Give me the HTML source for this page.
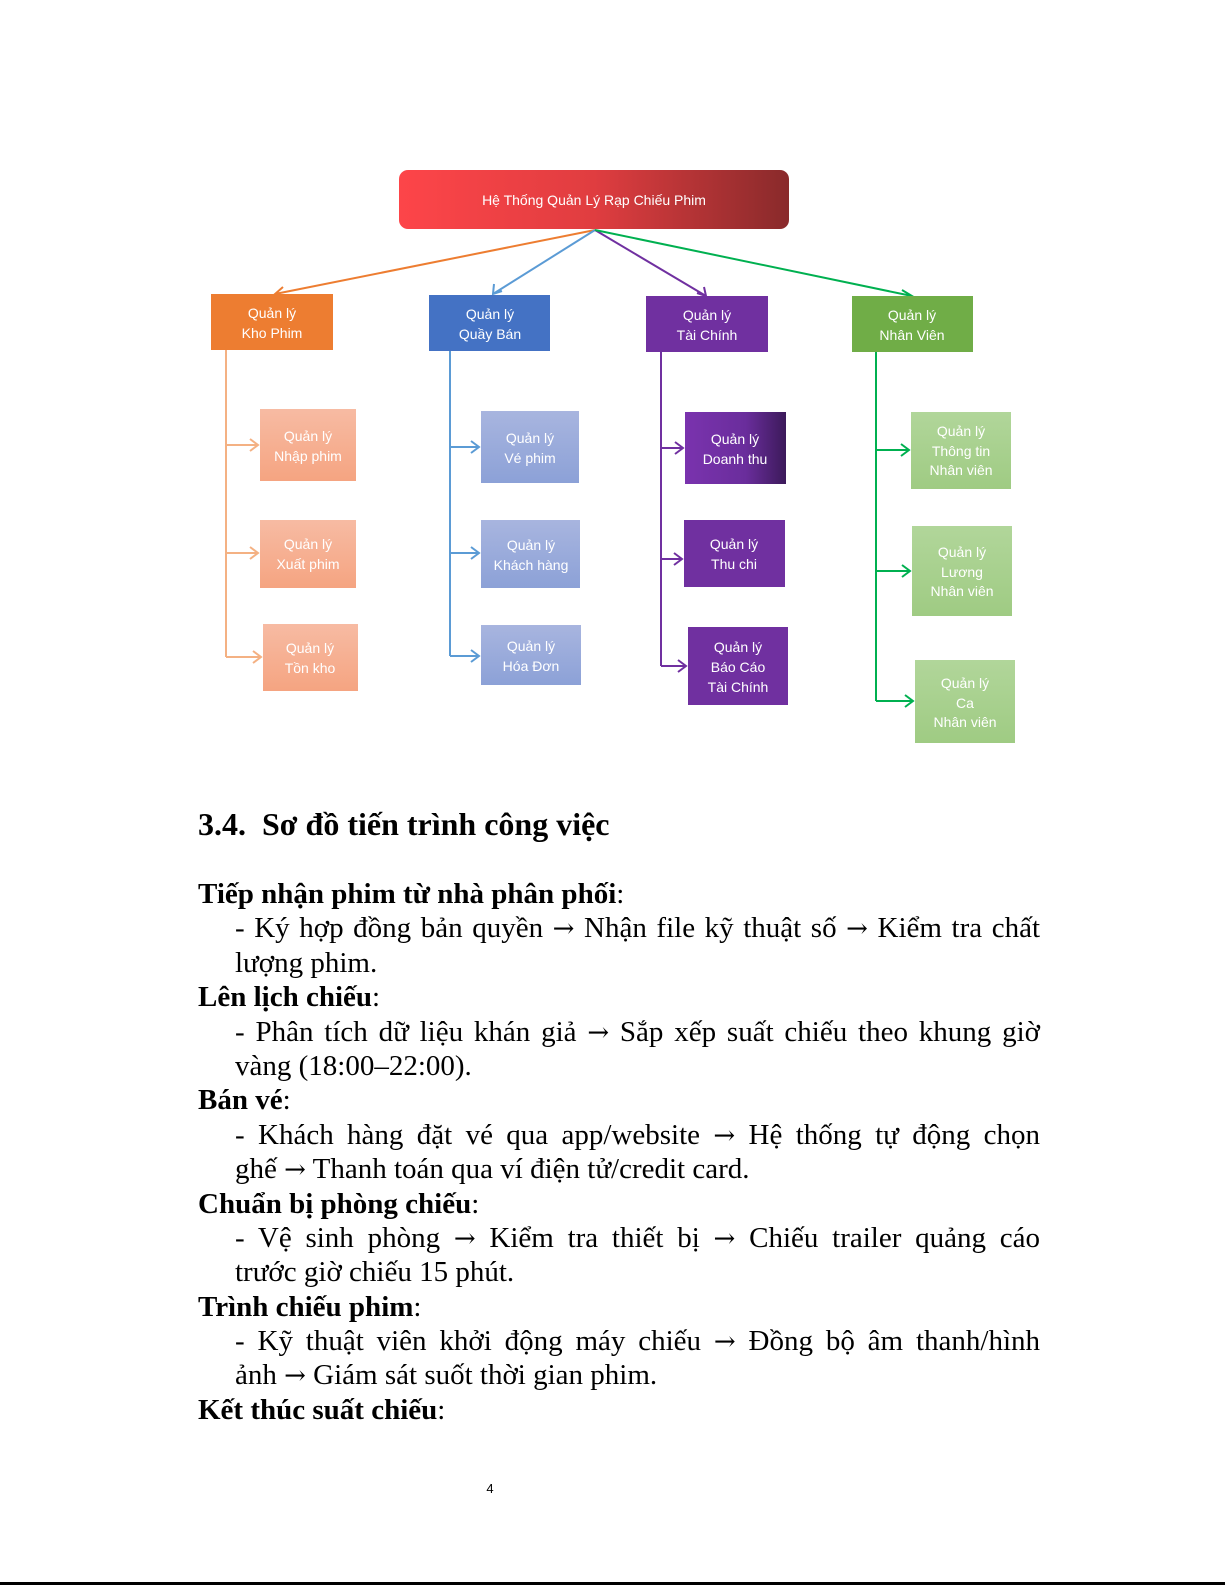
<!DOCTYPE html>
<html><head><meta charset="utf-8"><style>
body{margin:0;width:1225px;height:1585px;background:#fff;position:relative;overflow:hidden;font-family:"Liberation Serif",serif;}
svg{position:absolute;left:0;top:0}
.t{position:absolute;left:198px;width:842px;font-size:29px;line-height:34.4px;color:#000;text-align:justify}
.t div{height:34.4px;white-space:nowrap}
.ind{padding-left:37px}
.j{text-align-last:justify}
.a{font-family:"DejaVu Serif",serif;font-size:26px;line-height:0}
h2{position:absolute;left:198px;top:806px;margin:0;font-size:32px;font-weight:bold;font-family:"Liberation Serif",serif}
</style></head><body>
<svg width="1225" height="1585" font-family="Liberation Sans, sans-serif" font-size="14" fill="#fff">
<defs>
<linearGradient id="r" x1="0" x2="1"><stop offset="0" stop-color="#fd4549"/><stop offset="0.5" stop-color="#e03d40"/><stop offset="1" stop-color="#892a2b"/></linearGradient>
<linearGradient id="o" x1="0" y1="0" x2="0" y2="1"><stop offset="0" stop-color="#f7bba3"/><stop offset="1" stop-color="#f5a481"/></linearGradient>
<linearGradient id="b" x1="0" y1="0" x2="0" y2="1"><stop offset="0" stop-color="#a8b5df"/><stop offset="1" stop-color="#8ca1d7"/></linearGradient>
<linearGradient id="p" x1="0" x2="1"><stop offset="0" stop-color="#7a33ae"/><stop offset="0.6" stop-color="#6a2d9c"/><stop offset="1" stop-color="#3c1a5a"/></linearGradient>
<linearGradient id="g" x1="0" y1="0" x2="0" y2="1"><stop offset="0" stop-color="#b1d69a"/><stop offset="1" stop-color="#9fcb83"/></linearGradient>
</defs>
<rect x="399" y="170" width="390" height="59" rx="9" fill="url(#r)"/>
<text x="594" y="205" text-anchor="middle" font-size="14">Hệ Thống Quản Lý Rạp Chiếu Phim</text>
<g fill="none" stroke-width="2">
<path d="M595 230 L275 294 M283 287 L275 294 L285 296" stroke="#ed7d31"/>
<path d="M595 230 L493 294 M494 284 L493 294 L502 291" stroke="#5b9bd5"/>
<path d="M595 230 L706 296 M697 293 L706 296 L704 287" stroke="#7030a0"/>
<path d="M595 230 L912 296 M902 290 L912 296 L902 298" stroke="#00b050"/>
<path d="M226 350 V657 M226 445 H258 M226 553 H258 M226 657 H261" stroke="#f4b183"/>
<path d="M250 439 L258 445 L250 451 M250 547 L258 553 L250 559 M253 651 L261 657 L253 663" stroke="#f4b183"/>
<path d="M450 351 V656 M450 447 H479 M450 553 H479 M450 656 H479" stroke="#5b9bd5"/>
<path d="M471 441 L479 447 L471 453 M471 547 L479 553 L471 559 M471 650 L479 656 L471 662" stroke="#5b9bd5"/>
<path d="M661 352 V666 M661 448 H683 M661 559 H682 M661 666 H686" stroke="#7030a0"/>
<path d="M675 442 L683 448 L675 454 M674 553 L682 559 L674 565 M678 660 L686 666 L678 672" stroke="#7030a0"/>
<path d="M876 352 V701 M876 450 H909 M876 571 H910 M876 701 H913" stroke="#00b050"/>
<path d="M901 444 L909 450 L901 456 M902 565 L910 571 L902 577 M905 695 L913 701 L905 707" stroke="#00b050"/>
</g>
<rect x="211" y="294" width="122" height="56" fill="#ed7d31"/>
<rect x="429" y="295" width="121" height="56" fill="#4472c4"/>
<rect x="646" y="296" width="122" height="56" fill="#7030a0"/>
<rect x="852" y="296" width="121" height="56" fill="#70ad47"/>
<g text-anchor="middle">
<text x="272" y="318">Quản lý</text><text x="272" y="338">Kho Phim</text>
<text x="490" y="319">Quản lý</text><text x="490" y="339">Quầy Bán</text>
<text x="707" y="320">Quản lý</text><text x="707" y="340">Tài Chính</text>
<text x="912" y="320">Quản lý</text><text x="912" y="340">Nhân Viên</text>
</g>
<rect x="260" y="409" width="96" height="72" fill="url(#o)"/>
<rect x="260" y="520" width="96" height="68" fill="url(#o)"/>
<rect x="263" y="624" width="95" height="67" fill="url(#o)"/>
<rect x="481" y="411" width="98" height="72" fill="url(#b)"/>
<rect x="481" y="520" width="99" height="68" fill="url(#b)"/>
<rect x="481" y="625" width="100" height="60" fill="url(#b)"/>
<rect x="685" y="412" width="101" height="72" fill="url(#p)"/>
<rect x="684" y="520" width="101" height="67" fill="#7030a0"/>
<rect x="688" y="627" width="100" height="78" fill="#7030a0"/>
<rect x="911" y="412" width="100" height="77" fill="url(#g)"/>
<rect x="912" y="526" width="100" height="90" fill="url(#g)"/>
<rect x="915" y="660" width="100" height="83" fill="url(#g)"/>
<g text-anchor="middle">
<text x="308" y="441">Quản lý</text><text x="308" y="461">Nhập phim</text>
<text x="308" y="549">Quản lý</text><text x="308" y="569">Xuất phim</text>
<text x="310" y="653">Quản lý</text><text x="310" y="673">Tồn kho</text>
<text x="530" y="443">Quản lý</text><text x="530" y="463">Vé phim</text>
<text x="531" y="550">Quản lý</text><text x="531" y="570">Khách hàng</text>
<text x="531" y="651">Quản lý</text><text x="531" y="671">Hóa Đơn</text>
<text x="735" y="444">Quản lý</text><text x="735" y="464">Doanh thu</text>
<text x="734" y="549">Quản lý</text><text x="734" y="569">Thu chi</text>
<text x="738" y="652">Quản lý</text><text x="738" y="672">Báo Cáo</text><text x="738" y="692">Tài Chính</text>
<text x="961" y="436">Quản lý</text><text x="961" y="456">Thông tin</text><text x="961" y="475">Nhân viên</text>
<text x="962" y="557">Quản lý</text><text x="962" y="577">Lương</text><text x="962" y="596">Nhân viên</text>
<text x="965" y="688">Quản lý</text><text x="965" y="708">Ca</text><text x="965" y="727">Nhân viên</text>
</g>
<text x="490" y="1493" fill="#000" font-size="13" text-anchor="middle">4</text>
<rect x="0" y="1582" width="1225" height="3" fill="#000"/>
</svg>
<h2>3.4.&nbsp; Sơ đồ tiến trình công việc</h2>
<div class="t" style="top:877px">
<div><b>Tiếp nhận phim từ nhà phân phối</b>:</div>
<div class="ind j">- Ký hợp đồng bản quyền <span class="a">→</span> Nhận file kỹ thuật số <span class="a">→</span> Kiểm tra chất</div>
<div class="ind">lượng phim.</div>
<div><b>Lên lịch chiếu</b>:</div>
<div class="ind j">- Phân tích dữ liệu khán giả <span class="a">→</span> Sắp xếp suất chiếu theo khung giờ</div>
<div class="ind">vàng (18:00–22:00).</div>
<div><b>Bán vé</b>:</div>
<div class="ind j">- Khách hàng đặt vé qua app/website <span class="a">→</span> Hệ thống tự động chọn</div>
<div class="ind">ghế <span class="a">→</span> Thanh toán qua ví điện tử/credit card.</div>
<div><b>Chuẩn bị phòng chiếu</b>:</div>
<div class="ind j">- Vệ sinh phòng <span class="a">→</span> Kiểm tra thiết bị <span class="a">→</span> Chiếu trailer quảng cáo</div>
<div class="ind">trước giờ chiếu 15 phút.</div>
<div><b>Trình chiếu phim</b>:</div>
<div class="ind j">- Kỹ thuật viên khởi động máy chiếu <span class="a">→</span> Đồng bộ âm thanh/hình</div>
<div class="ind">ảnh <span class="a">→</span> Giám sát suốt thời gian phim.</div>
<div><b>Kết thúc suất chiếu</b>:</div>
</div>
</body></html>
